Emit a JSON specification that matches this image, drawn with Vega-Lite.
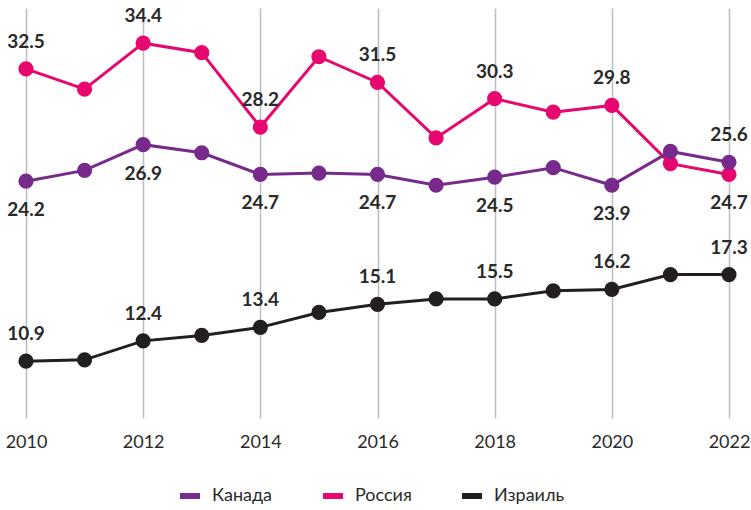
{
  "$schema": "https://vega.github.io/schema/vega-lite/v6.json",
  "width": 703,
  "height": 410,
  "autosize": {"type": "none"},
  "padding": {"left": 26, "top": 8, "right": 22, "bottom": 92},
  "background": "white",
  "config": {"view": {"stroke": null}, "font": "Lato"},
  "data": {
    "values": [
      {"country": "Россия", "year": 2010, "value": 32.5},
      {"country": "Россия", "year": 2011, "value": 31.0},
      {"country": "Россия", "year": 2012, "value": 34.4},
      {"country": "Россия", "year": 2013, "value": 33.7},
      {"country": "Россия", "year": 2014, "value": 28.2},
      {"country": "Россия", "year": 2015, "value": 33.4},
      {"country": "Россия", "year": 2016, "value": 31.5},
      {"country": "Россия", "year": 2017, "value": 27.4},
      {"country": "Россия", "year": 2018, "value": 30.3},
      {"country": "Россия", "year": 2019, "value": 29.3},
      {"country": "Россия", "year": 2020, "value": 29.8},
      {"country": "Россия", "year": 2021, "value": 25.5},
      {"country": "Россия", "year": 2022, "value": 24.7},
      {"country": "Израиль", "year": 2010, "value": 10.9},
      {"country": "Израиль", "year": 2011, "value": 11.0},
      {"country": "Израиль", "year": 2012, "value": 12.4},
      {"country": "Израиль", "year": 2013, "value": 12.8},
      {"country": "Израиль", "year": 2014, "value": 13.4},
      {"country": "Израиль", "year": 2015, "value": 14.5},
      {"country": "Израиль", "year": 2016, "value": 15.1},
      {"country": "Израиль", "year": 2017, "value": 15.5},
      {"country": "Израиль", "year": 2018, "value": 15.5},
      {"country": "Израиль", "year": 2019, "value": 16.1},
      {"country": "Израиль", "year": 2020, "value": 16.2},
      {"country": "Израиль", "year": 2021, "value": 17.3},
      {"country": "Израиль", "year": 2022, "value": 17.3},
      {"country": "Канада", "year": 2010, "value": 24.2},
      {"country": "Канада", "year": 2011, "value": 25.0},
      {"country": "Канада", "year": 2012, "value": 26.9},
      {"country": "Канада", "year": 2013, "value": 26.3},
      {"country": "Канада", "year": 2014, "value": 24.7},
      {"country": "Канада", "year": 2015, "value": 24.8},
      {"country": "Канада", "year": 2016, "value": 24.7},
      {"country": "Канада", "year": 2017, "value": 23.9},
      {"country": "Канада", "year": 2018, "value": 24.5},
      {"country": "Канада", "year": 2019, "value": 25.2},
      {"country": "Канада", "year": 2020, "value": 23.9},
      {"country": "Канада", "year": 2021, "value": 26.4},
      {"country": "Канада", "year": 2022, "value": 25.6}
    ]
  },
  "encoding": {
    "x": {
      "field": "year",
      "type": "quantitative",
      "scale": {"domain": [2010, 2022], "nice": false, "zero": false},
      "axis": {
        "values": [2010, 2012, 2014, 2016, 2018, 2020, 2022],
        "format": "d",
        "title": null,
        "domain": false,
        "ticks": false,
        "grid": true,
        "gridColor": "#bdbdc2",
        "gridWidth": 1.5,
        "labelFont": "Lato",
        "labelFontSize": 18,
        "labelColor": "#2a2a2a",
        "labelPadding": 15,
        "labelFlush": false
      }
    },
    "y": {
      "field": "value",
      "type": "quantitative",
      "scale": {"domain": [6.7, 37], "nice": false, "zero": false},
      "axis": null
    }
  },
  "layer": [
    {
      "mark": {"type": "line", "strokeWidth": 3},
      "encoding": {
        "color": {
          "field": "country",
          "type": "nominal",
          "scale": {"domain": ["Канада", "Россия", "Израиль"], "range": ["#772a8c", "#e6076f", "#231f20"]},
          "legend": {
            "title": null,
            "orient": "none",
            "direction": "horizontal",
            "legendX": 154,
            "legendY": 478,
            "symbolType": "M-1,-0.3L1,-0.3L1,0.3L-1,0.3Z",
            "symbolSize": 400,
            "symbolStrokeWidth": 0,
            "labelFont": "Lato",
            "labelFontSize": 18,
            "labelColor": "#2a2a2a",
            "labelOffset": 12,
            "columnPadding": 50
          }
        }
      }
    },
    {
      "mark": {"type": "point", "filled": true, "size": 230, "opacity": 1},
      "encoding": {
        "color": {"field": "country", "type": "nominal", "legend": null}
      }
    },
    {
      "transform": [
        {"filter": "datum.year % 2 == 0"},
        {"filter": "!((datum.country == 'Канада' && datum.year < 2022) || (datum.country == 'Россия' && datum.year == 2022))"}
      ],
      "mark": {"type": "text", "dy": -27, "baseline": "middle", "fontSize": 19, "fontWeight": "bold", "color": "#2a2a2a", "font": "Lato"},
      "encoding": {"text": {"field": "value", "type": "quantitative", "format": ".1f"}}
    },
    {
      "transform": [
        {"filter": "datum.year % 2 == 0"},
        {"filter": "(datum.country == 'Канада' && datum.year < 2022) || (datum.country == 'Россия' && datum.year == 2022)"}
      ],
      "mark": {"type": "text", "dy": 29, "baseline": "middle", "fontSize": 19, "fontWeight": "bold", "color": "#2a2a2a", "font": "Lato"},
      "encoding": {"text": {"field": "value", "type": "quantitative", "format": ".1f"}}
    }
  ]
}
